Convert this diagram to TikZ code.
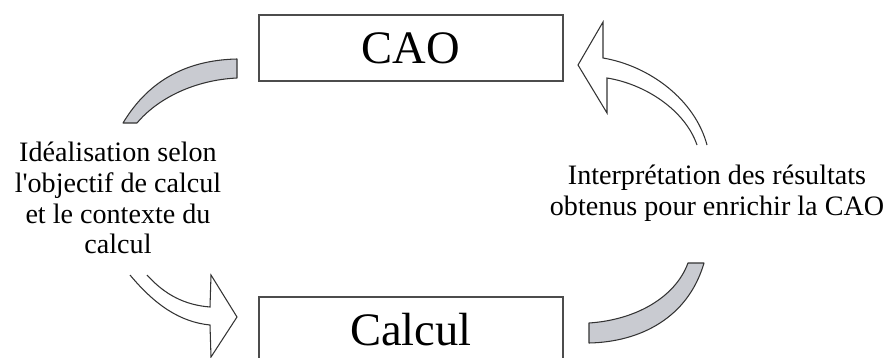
\documentclass[tikz,border=0pt]{standalone}
\usepackage{fontspec}
\setmainfont{Liberation Serif}
\begin{document}
\begin{tikzpicture}[x=0.02cm, y=-0.02cm,
      box/.style={draw=black!70, line width=0.8pt, minimum width=6.08cm, minimum height=1.32cm, inner sep=0pt, font=\fontsize{26.5}{30}\selectfont},
      label/.style={align=center, font=\fontsize{16}{17.5}\selectfont},
      band/.style={draw=black!80, line width=0.6pt, fill=bandgray, line join=round},
      hollow/.style={draw=black!80, line width=0.6pt, fill=white, line join=miter}]
    \definecolor{bandgray}{RGB}{201,203,209}
    \clip (0,0) rectangle (885,358);
    \node[box] (cao) at (411,48) {CAO};
    \node[box] (calcul) at (411,330) {Calcul};
    \node[label] (ideal) at (118,198) {Idéalisation selon\\l\textquotesingle objectif de calcul\\et le contexte du\\calcul};
    \node[label] (interp) at (717,193) {Interprétation des résultats\\obtenus pour enrichir la CAO};
    % bandes grises
    \draw[band] (237,59) .. controls (190,60) and (150,78) .. (123,123)
      -- (137,123) .. controls (158,98) and (195,80) .. (237,78) -- cycle;
    \draw[band] (589,343) .. controls (640,342) and (688,318) .. (704,263)
      -- (688,263) .. controls (675,298) and (635,320) .. (589,323) -- cycle;
    % fleches creuses
    \draw[hollow] (130,275) .. controls (155,305) and (180,322) .. (210,325)
      -- (211,357) -- (237,317) -- (211,275) -- (210,307)
      .. controls (185,305) and (165,295) .. (147,275);
    \draw[hollow] (707,145) .. controls (695,100) and (650,66) .. (603,58)
      -- (603,22) -- (578,65) -- (607,113) -- (607,78)
      .. controls (645,84) and (685,110) .. (697,145);
\end{tikzpicture}
\end{document}
